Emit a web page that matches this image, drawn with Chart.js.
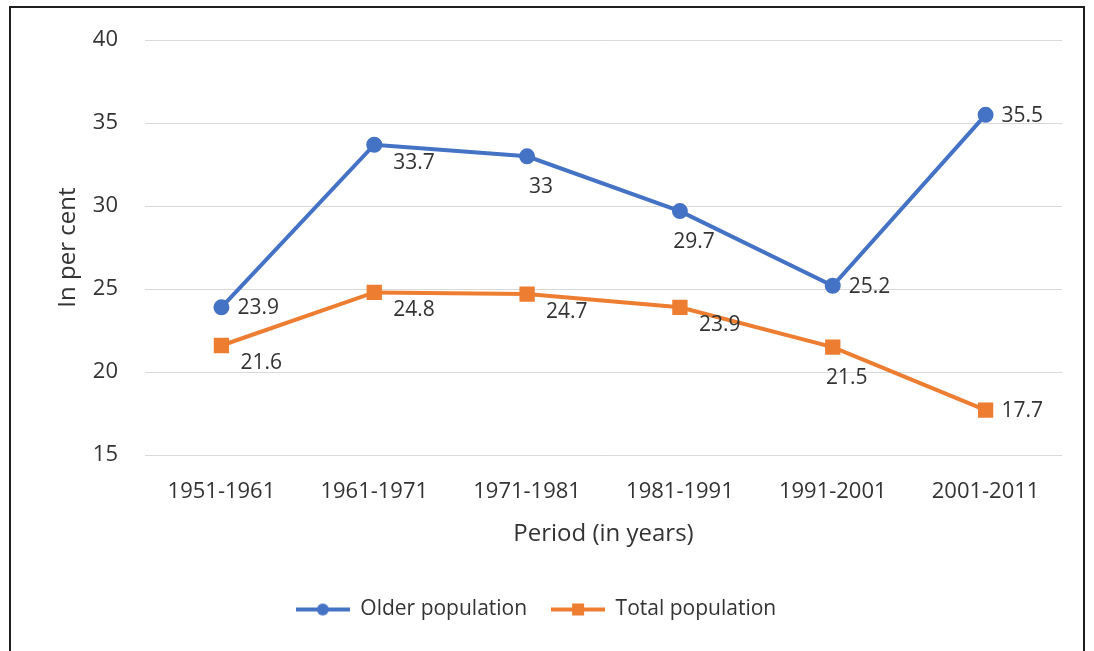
<!DOCTYPE html>
<html>
<head>
<meta charset="utf-8">
<script src="https://cdn.jsdelivr.net/npm/chart.js@4.4.1/dist/chart.umd.min.js"></script>
<style>
  body { margin: 0; background: #fff; }
  #wrap { position: relative; width: 1094px; height: 651px; overflow: hidden; }
  #frame { position: absolute; left: 9px; top: 6px; width: 1076px; height: 700px; border: 2px solid #1e1e1e; box-sizing: border-box; pointer-events: none; }
</style>
</head>
<body>
<div id="wrap">
  <canvas id="myChart" width="1094" height="651"></canvas>
  <div id="frame"></div>
</div>
<script>
// data
var periods = ["1951-1961", "1961-1971", "1971-1981", "1981-1991", "1991-2001", "2001-2011"];
var older = [23.9, 33.7, 33, 29.7, 25.2, 35.5];
var total = [21.6, 24.8, 24.7, 23.9, 21.5, 17.7];

// where each value label sits: r = right, rb = right-below, b = below
var olderLabelPos = ["r", "rb", "b", "b", "r", "r"];
var totalLabelPos = ["rb", "rb", "rb", "rb", "b", "r"];

var blue = "#4472C4";
var orange = "#ED7D31";
var fontName = "'Open Sans', sans-serif";
var textCol = "#333333";

// legend icon: line with marker in the middle
function legendIcon(color, shape) {
    var c = document.createElement("canvas");
    c.width = 54; c.height = 16;
    var g = c.getContext("2d");
    g.strokeStyle = color;
    g.lineWidth = 4;
    g.beginPath(); g.moveTo(0, 8); g.lineTo(54, 8); g.stroke();
    g.fillStyle = color;
    if (shape == "circle") {
        g.beginPath(); g.arc(27, 8, 6, 0, Math.PI * 2); g.fill();
    } else {
        g.fillRect(21, 2, 12, 12);
    }
    return c;
}
var iconBlue = legendIcon(blue, "circle");
var iconOrange = legendIcon(orange, "square");

// draws the value labels next to the points
var valueLabels = {
    id: "valueLabels",
    afterDatasetsDraw: function (chart) {
        var ctx = chart.ctx;
        ctx.save();
        ctx.font = "21px " + fontName;
        ctx.fillStyle = textCol;
        ctx.textBaseline = "middle";
        chart.data.datasets.forEach(function (ds, di) {
            var meta = chart.getDatasetMeta(di);
            var posList = di == 0 ? olderLabelPos : totalLabelPos;
            meta.data.forEach(function (pt, i) {
                var p = posList[i];
                var txt = String(ds.data[i]);
                if (p == "r") {
                    ctx.textAlign = "left";
                    ctx.fillText(txt, pt.x + 16, pt.y + 1);
                } else if (p == "rb") {
                    ctx.textAlign = "left";
                    ctx.fillText(txt, pt.x + 19, pt.y + 18);
                } else {
                    ctx.textAlign = "center";
                    ctx.fillText(txt, pt.x + 14, pt.y + 31);
                }
            });
        });
        ctx.restore();
    }
};

var ctx = document.getElementById("myChart");
var myLineChart = new Chart(ctx, {
    type: "line",
    data: {
        labels: periods,
        datasets: [{
            label: "Older population",
            data: older,
            borderColor: blue,
            backgroundColor: blue,
            borderWidth: 4,
            pointStyle: "circle",
            pointRadius: 6,
            pointHoverRadius: 6,
            tension: 0
        }, {
            label: "Total population",
            data: total,
            borderColor: orange,
            backgroundColor: orange,
            borderWidth: 4,
            pointStyle: "rect",
            pointRadius: 8,
            pointHoverRadius: 8,
            tension: 0
        }]
    },
    options: {
        responsive: false,
        animation: false,
        layout: { padding: { left: 10, top: 39, right: 32, bottom: 21 } },
        scales: {
            x: {
                offset: true,
                grid: { display: false, drawTicks: false },
                border: { display: false },
                ticks: { padding: 24, color: textCol, font: { family: fontName, size: 22 } },
                title: {
                    display: true,
                    text: "Period (in years)",
                    color: textCol,
                    font: { family: fontName, size: 24 },
                    padding: { top: 26, bottom: 26 }
                },
                afterFit: function (scale) { scale.height = 120; }
            },
            y: {
                min: 15,
                max: 40,
                grid: { color: "#d9d9d9", lineWidth: 1, drawTicks: false },
                border: { display: false },
                ticks: { stepSize: 5, padding: 27, color: textCol, font: { family: fontName, size: 22 } },
                title: {
                    display: true,
                    text: "In per cent",
                    color: textCol,
                    font: { family: fontName, size: 24 },
                    padding: { top: 44, bottom: 44 }
                },
                afterFit: function (scale) { scale.width = 135; }
            }
        },
        plugins: {
            tooltip: { enabled: false },
            legend: {
                position: "bottom",
                labels: {
                    usePointStyle: true,
                    pointStyleWidth: 54,
                    padding: 24,
                    color: textCol,
                    font: { family: fontName, size: 21 },
                    generateLabels: function (chart) {
                        return chart.data.datasets.map(function (ds, i) {
                            return {
                                text: ds.label,
                                pointStyle: i == 0 ? iconBlue : iconOrange,
                                fillStyle: ds.borderColor,
                                strokeStyle: ds.borderColor,
                                lineWidth: 0,
                                hidden: false,
                                datasetIndex: i,
                                fontColor: textCol
                            };
                        });
                    }
                }
            }
        }
    },
    plugins: [valueLabels]
});
</script>
</body>
</html>
